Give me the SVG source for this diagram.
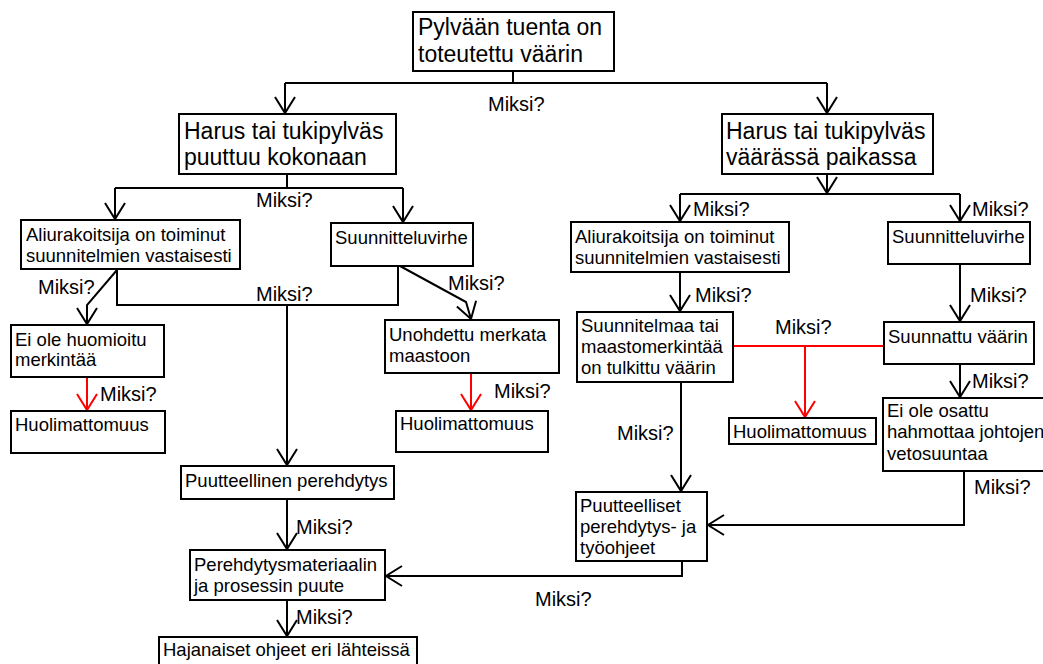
<svg xmlns="http://www.w3.org/2000/svg" width="1043" height="664" viewBox="0 0 1043 664">
<style>
.box{fill:#fff;stroke:#000;stroke-width:2}
.big{font-family:"Liberation Sans",Arial,sans-serif;font-size:23px;fill:#000}
.sm{font-family:"Liberation Sans",Arial,sans-serif;font-size:18.5px;fill:#000}
.lbl{font-family:"Liberation Sans",Arial,sans-serif;font-size:20px;fill:#000}
.ln{fill:none;stroke:#000;stroke-width:2}
.arr{fill:none;stroke:#000;stroke-width:2;marker-end:url(#ah)}
.red{fill:none;stroke:#f00;stroke-width:2}
.rarr{fill:none;stroke:#f00;stroke-width:2;marker-end:url(#ahr)}
</style>
<defs>
<marker id="ah" markerUnits="userSpaceOnUse" viewBox="-18 -12 20 24" refX="0" refY="0" markerWidth="20" markerHeight="24" orient="auto" overflow="visible">
<path d="M-16,-10 L0,0 L-16,10" fill="none" stroke="#000" stroke-width="2"/>
</marker>
<marker id="ahr" markerUnits="userSpaceOnUse" viewBox="-18 -12 20 24" refX="0" refY="0" markerWidth="20" markerHeight="24" orient="auto" overflow="visible">
<path d="M-16,-10 L0,0 L-16,10" fill="none" stroke="#f00" stroke-width="2"/>
</marker>
</defs>
<rect width="1043" height="664" fill="#fff"/>
<g id="connectors">
<path class="ln" d="M513,71 V83 M285,83 H827"/>
<path class="arr" d="M285,83 V113"/>
<path class="arr" d="M827,83 V113"/>
<path class="ln" d="M287,174 V188 M115,188 H403"/>
<path class="arr" d="M115,188 V219"/>
<path class="arr" d="M403,188 V222"/>
<path class="arr" d="M827,174 V193"/>
<path class="ln" d="M680,194 H960"/>
<path class="arr" d="M680,194 V221"/>
<path class="arr" d="M960,194 V221"/>
<path class="arr" d="M117,270 L87,305 V324"/>
<path class="ln" d="M117,270 V305 H398 V266"/>
<path class="arr" d="M287,305 V465"/>
<path class="arr" d="M400,266 L466,302 L471,319"/>
<path class="rarr" d="M87,377 V410"/>
<path class="rarr" d="M471,373 V410"/>
<path class="arr" d="M287,499 V549"/>
<path class="arr" d="M287,600 V636"/>
<path class="arr" d="M680,272 V311"/>
<path class="arr" d="M960,264 V321"/>
<path class="red" d="M733,346 H884"/>
<path class="rarr" d="M805,346 V417"/>
<path class="arr" d="M960,364 V397"/>
<path class="arr" d="M681,382 V491"/>
<path class="arr" d="M964,471 V525 H708"/>
<path class="arr" d="M682,561 V576 H386"/>
</g>
<g id="labels">
<text class="lbl" x="488" y="111">Miksi?</text>
<text class="lbl" x="256" y="207">Miksi?</text>
<text class="lbl" x="38" y="294">Miksi?</text>
<text class="lbl" x="256" y="301">Miksi?</text>
<text class="lbl" x="448" y="290">Miksi?</text>
<text class="lbl" x="100" y="401">Miksi?</text>
<text class="lbl" x="494" y="398">Miksi?</text>
<text class="lbl" x="296" y="534">Miksi?</text>
<text class="lbl" x="296" y="624">Miksi?</text>
<text class="lbl" x="693" y="216">Miksi?</text>
<text class="lbl" x="972" y="216">Miksi?</text>
<text class="lbl" x="695" y="302">Miksi?</text>
<text class="lbl" x="970" y="302">Miksi?</text>
<text class="lbl" x="775" y="334">Miksi?</text>
<text class="lbl" x="972" y="388">Miksi?</text>
<text class="lbl" x="617" y="440">Miksi?</text>
<text class="lbl" x="974" y="494">Miksi?</text>
<text class="lbl" x="535" y="606">Miksi?</text>
</g>
<g id="n1"><rect class="box" x="413" y="12" width="201" height="59"/><text class="big" x="418" y="35">Pylvään tuenta on</text><text class="big" x="418" y="62">toteutettu väärin</text></g>
<g id="n2"><rect class="box" x="179" y="114" width="217" height="60"/><text class="big" x="184" y="139">Harus tai tukipylväs</text><text class="big" x="184" y="165">puuttuu kokonaan</text></g>
<g id="n3"><rect class="box" x="722" y="114" width="211" height="60"/><text class="big" x="726" y="139">Harus tai tukipylväs</text><text class="big" x="726" y="165">väärässä paikassa</text></g>
<g id="n4"><rect class="box" x="21" y="220" width="219" height="49"/><text class="sm" x="26" y="241">Aliurakoitsija on toiminut</text><text class="sm" x="26" y="262">suunnitelmien vastaisesti</text></g>
<g id="n5"><rect class="box" x="331" y="223" width="142" height="43"/><text class="sm" x="335" y="244">Suunnitteluvirhe</text></g>
<g id="n6"><rect class="box" x="11" y="325" width="153" height="52"/><text class="sm" x="15" y="346">Ei ole huomioitu</text><text class="sm" x="15" y="366">merkintää</text></g>
<g id="n7"><rect class="box" x="11" y="411" width="154" height="42"/><text class="sm" x="15" y="431">Huolimattomuus</text></g>
<g id="n8"><rect class="box" x="385" y="320" width="174" height="53"/><text class="sm" x="389" y="341">Unohdettu merkata</text><text class="sm" x="389" y="362">maastoon</text></g>
<g id="n9"><rect class="box" x="396" y="411" width="152" height="41"/><text class="sm" x="400" y="430">Huolimattomuus</text></g>
<g id="n10"><rect class="box" x="181" y="466" width="213" height="33"/><text class="sm" x="185" y="487">Puutteellinen perehdytys</text></g>
<g id="n11"><rect class="box" x="190" y="550" width="195" height="50"/><text class="sm" x="194" y="571">Perehdytysmateriaalin</text><text class="sm" x="194" y="592">ja prosessin puute</text></g>
<g id="n12"><rect class="box" x="159" y="637" width="258" height="50"/><text class="sm" x="163" y="656">Hajanaiset ohjeet eri lähteissä</text></g>
<g id="n13"><rect class="box" x="571" y="222" width="218" height="50"/><text class="sm" x="575" y="243">Aliurakoitsija on toiminut</text><text class="sm" x="575" y="264">suunnitelmien vastaisesti</text></g>
<g id="n14"><rect class="box" x="888" y="222" width="142" height="42"/><text class="sm" x="892" y="243">Suunnitteluvirhe</text></g>
<g id="n15"><rect class="box" x="577" y="312" width="156" height="70"/><text class="sm" x="581" y="332">Suunnitelmaa tai</text><text class="sm" x="581" y="353">maastomerkintää</text><text class="sm" x="581" y="374">on tulkittu väärin</text></g>
<g id="n16"><rect class="box" x="884" y="322" width="150" height="42"/><text class="sm" x="888" y="343">Suunnattu väärin</text></g>
<g id="n17"><rect class="box" x="729" y="418" width="147" height="26"/><text class="sm" x="733" y="438">Huolimattomuus</text></g>
<g id="n18"><rect class="box" x="883" y="398" width="170" height="73"/><text class="sm" x="887" y="417">Ei ole osattu</text><text class="sm" x="887" y="438">hahmottaa johtojen</text><text class="sm" x="887" y="460">vetosuuntaa</text></g>
<g id="n19"><rect class="box" x="576" y="492" width="131" height="69"/><text class="sm" x="580" y="512">Puutteelliset</text><text class="sm" x="580" y="533">perehdytys- ja</text><text class="sm" x="580" y="554">työohjeet</text></g>
</svg>
